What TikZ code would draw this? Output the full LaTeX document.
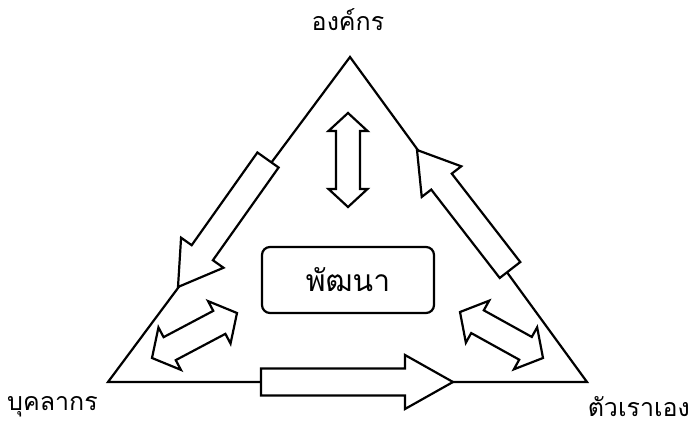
\documentclass[tikz,border=0pt]{standalone}
\usepackage{fontspec}
\newfontfamily\thaifont[Script=Thai]{Loma}
\usepackage{tikz}
\usetikzlibrary{calc, positioning}

% block arrow with one head: tail, tip, half shaft, half head, head length
\newcommand{\onearrow}[5]{%
  \coordinate (hb) at ($(#2)!#5!(#1)$);
  \draw[blockarrow] ($(#1)!#3!90:(#2)$) -- ($(hb)!#3!90:(#2)$) -- ($(hb)!#4!90:(#2)$)
    -- (#2) -- ($(hb)!#4!-90:(#2)$) -- ($(hb)!#3!-90:(#2)$) -- ($(#1)!#3!-90:(#2)$) -- cycle;
}
% block arrow with two heads: end a, end b, half shaft, half head, head length
\newcommand{\twoarrow}[5]{%
  \coordinate (ha) at ($(#1)!#5!(#2)$);
  \coordinate (hb) at ($(#2)!#5!(#1)$);
  \draw[blockarrow] (#1) -- ($(ha)!#4!90:(#2)$) -- ($(ha)!#3!90:(#2)$) -- ($(hb)!#3!90:(#2)$)
    -- ($(hb)!#4!90:(#2)$) -- (#2) -- ($(hb)!#4!-90:(#2)$) -- ($(hb)!#3!-90:(#2)$)
    -- ($(ha)!#3!-90:(#2)$) -- ($(ha)!#4!-90:(#2)$) -- cycle;
}

\begin{document}
\begin{tikzpicture}[x=1pt, y=-1pt,
    corner/.style={inner sep=1pt, font=\thaifont\fontsize{25}{30}\selectfont},
    goal/.style={rectangle, rounded corners=8pt, draw=black, line width=2.2pt, minimum width=172pt, minimum height=66pt, font=\thaifont\fontsize{30}{36}\selectfont},
    blockarrow/.style={draw=black, fill=white, line width=2.2pt, line join=miter}
]
\useasboundingbox (0,0) rectangle (696,427);

% corners of the triangle
\coordinate (top) at (350,57);
\coordinate (left) at (108,382);
\coordinate (right) at (587,382);
\draw[line width=2.2pt, line join=miter] (top) -- (left) -- (right) -- cycle;

\node (org) at (348,20) [corner] {องค์กร};
\node (staff) at (6,407) [corner, anchor=west] {บุคลากร};
\node (self) at (691,407) [corner, anchor=east] {ตัวเราเอง};
\node (dev) at (348,280) [goal] {พัฒนา};

% arrows along the edges
\coordinate (ltail) at (268,160);
\coordinate (ltip) at (178,287);
\onearrow{ltail}{ltip}{13pt}{26pt}{42pt}
\coordinate (rtail) at (510,270);
\coordinate (rtip) at (417,150);
\onearrow{rtail}{rtip}{13pt}{25pt}{40pt}
\coordinate (btail) at (261,382);
\coordinate (btip) at (453,382);
\onearrow{btail}{btip}{13.5pt}{27pt}{48pt}

% two-way arrows inside
\coordinate (va) at (348,113);
\coordinate (vb) at (348,207);
\twoarrow{va}{vb}{12pt}{19.5pt}{18pt}
\coordinate (la) at (152,358);
\coordinate (lb) at (237,313);
\twoarrow{la}{lb}{13pt}{24pt}{20pt}
\coordinate (ra) at (460,312);
\coordinate (rb) at (543,358);
\twoarrow{ra}{rb}{13pt}{24pt}{20pt}
\end{tikzpicture}
\end{document}
